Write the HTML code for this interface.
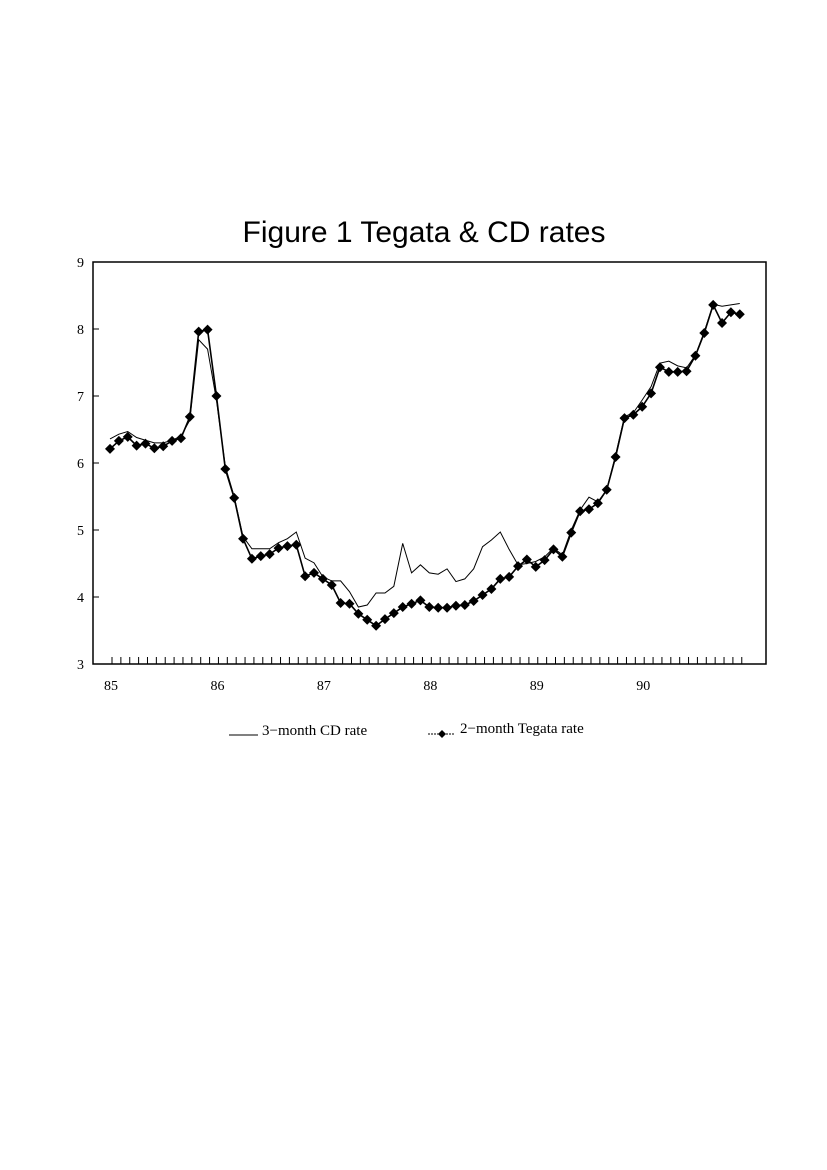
<!DOCTYPE html>
<html><head><meta charset="utf-8">
<style>
html,body{margin:0;padding:0;background:#fff;}
svg{display:block;}
</style></head>
<body>
<svg id="chart" width="827" height="1170" viewBox="0 0 827 1170" xmlns="http://www.w3.org/2000/svg">
<text x="424" y="242" text-anchor="middle" font-family="Liberation Sans, sans-serif" font-size="30">Figure 1   Tegata &amp; CD rates</text>
<rect x="93" y="262" width="673" height="402" fill="none" stroke="#000" stroke-width="1.5"/>
<g id="yaxis"></g>
<g id="xaxis"></g>
<g id="series"></g>
<g font-family="Liberation Serif, serif" font-size="15">
  <line x1="229" y1="735" x2="258" y2="735" stroke="#000" stroke-width="1"/>
  <text x="262" y="735">3−month CD rate</text>
  <line x1="428" y1="734" x2="455" y2="734" stroke="#000" stroke-width="1" stroke-dasharray="2,1"/>
  <path d="M442,730 L446,734 L442,738 L438,734 Z" fill="#000"/>
  <text x="460" y="733">2−month Tegata rate</text>
</g>
</svg>
<script>
const yTicks = [3,4,5,6,7,8,9];
const xYearLabels = ["85","86","87","88","89","90"];
const cdRate = [6.36,6.43,6.47,6.38,6.34,6.30,6.30,6.34,6.40,6.64,7.84,7.70,6.94,5.95,5.50,4.90,4.72,4.72,4.72,4.81,4.87,4.97,
4.58,4.51,4.30,4.24,4.24,4.08,3.85,3.88,4.06,4.06,4.16,4.80,4.36,4.48,4.36,4.34,4.42,4.23,4.27,4.42,
4.75,4.85,4.97,4.71,4.48,4.50,4.53,4.60,4.73,4.63,5.00,5.30,5.49,5.42,5.60,6.12,6.69,6.75,6.94,7.14,
7.49,7.52,7.45,7.42,7.61,7.96,8.37,8.34,8.36,8.38];
const tegataRate = [6.21,6.33,6.39,6.26,6.29,6.22,6.25,6.33,6.37,6.69,7.96,7.99,7.00,5.91,5.48,4.87,4.57,4.61,4.64,4.73,4.76,4.78,
4.31,4.36,4.27,4.18,3.91,3.90,3.75,3.66,3.57,3.67,3.76,3.85,3.90,3.95,3.85,3.84,3.84,3.87,3.88,3.94,
4.03,4.12,4.27,4.30,4.46,4.56,4.45,4.55,4.71,4.60,4.96,5.28,5.31,5.40,5.60,6.09,6.67,6.72,6.84,7.04,
7.43,7.36,7.36,7.37,7.60,7.94,8.36,8.09,8.25,8.22];

const NS="http://www.w3.org/2000/svg";
function y(v){return 664-(v-3)*67;}
function x(i){return 110+i*8.87;}
function mk(tag,attrs,parent){const e=document.createElementNS(NS,tag);for(const k in attrs)e.setAttribute(k,attrs[k]);parent.appendChild(e);return e;}

const ya=document.getElementById('yaxis');
yTicks.forEach(function(t){
  if(t>3&&t<9){const l=mk('line',{x1:93,x2:99,y1:y(t),y2:y(t),stroke:'#000','stroke-width':1},ya);
  
  }
  const tx=mk('text',{x:77,y:y(t)+5,'font-family':'Liberation Serif, serif','font-size':14},ya);
  tx.textContent=String(t);
  
  
});
const xa=document.getElementById('xaxis');
for(let i=0;i<cdRate.length;i++){
  const l=mk('line',{x1:x(i)+2,x2:x(i)+2,y1:657,y2:664,stroke:'#000','stroke-width':1},xa);
  
  
}
xYearLabels.forEach(function(lab,k){
  const tx=mk('text',{x:x(k*12)+1,y:690,'text-anchor':'middle','font-family':'Liberation Serif, serif','font-size':14},xa);
  tx.textContent=lab;
  
  
});
const sl=document.getElementById('series');
const cdPath=mk('polyline',{points:cdRate.map(function(v,i){return x(i)+','+y(v);}).join(' '),fill:'none',stroke:'#000','stroke-width':1},sl);


const tgPath=mk('polyline',{points:tegataRate.map(function(v,i){return x(i)+','+y(v);}).join(' '),fill:'none',stroke:'#000','stroke-width':1.6},sl);


tegataRate.forEach(function(v,i){
  const cx=x(i),cy=y(v);
  const p=mk('path',{d:'M'+cx+','+(cy-5)+' L'+(cx+5)+','+cy+' L'+cx+','+(cy+5)+' L'+(cx-5)+','+cy+' Z',fill:'#000'},sl);
  
  
});
</script>
</body></html>
